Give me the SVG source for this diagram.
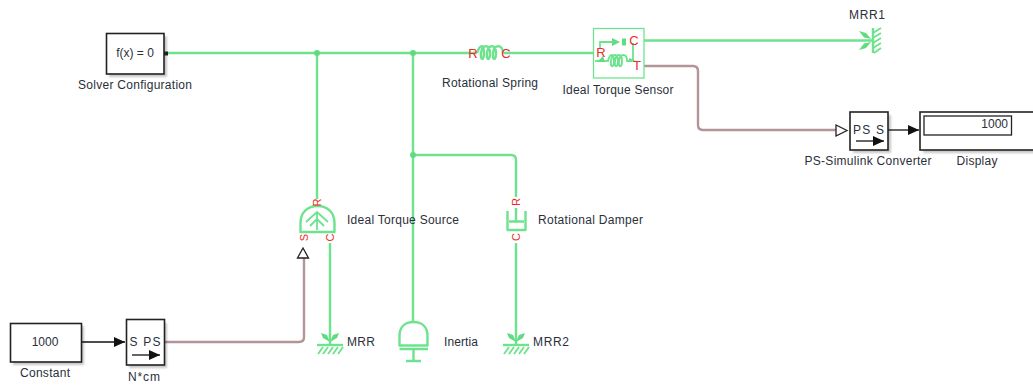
<svg xmlns="http://www.w3.org/2000/svg" width="1033" height="387" viewBox="0 0 1033 387">
<defs>
<style>
text{font-family:"Liberation Sans",Arial,sans-serif;font-size:12px;fill:#2a2f3a}
.m{text-anchor:middle}
.p{font-size:13px;fill:#ee2a2a;text-anchor:middle}
.r{font-size:11px;fill:#ee2a2a;text-anchor:middle}
.g{fill:none;stroke:#6ee38e;stroke-width:2.400;stroke-linejoin:round}
.gt{fill:none;stroke:#6ee38e;stroke-width:1.800}
.gf{fill:#5fdc82;stroke:none}
.b{fill:none;stroke:#b39497;stroke-width:2.400}
.k{fill:none;stroke:#111;stroke-width:1.300}
.box{fill:#fff;stroke:#222;stroke-width:1.600}
.sh{fill:#000;opacity:.22;filter:url(#blur)}
.h{stroke:#6ee38e;stroke-width:1.900}
</style>
<filter id="blur" x="-20%" y="-20%" width="140%" height="140%"><feGaussianBlur stdDeviation="1.2"/></filter>
<marker id="ka" markerUnits="userSpaceOnUse" markerWidth="12" markerHeight="10" refX="11" refY="5" orient="auto"><path d="M0 0L11 5L0 10Z" fill="#111"/></marker>
</defs>

<g id="connectors">
<path class="g" d="M168 53H477M503 53H593"/>
<path class="g" d="M317 53V199"/>
<path class="g" d="M413 53V322"/>
<path class="g" d="M413 155H511Q516 155 516 160V197"/>
<path class="g" d="M330 243V345"/>
<path class="g" d="M516 243V345"/>
<path class="g" d="M644 40.500H873"/>
<path class="b" d="M644 66H693Q698 66 698 71V125Q698 130 703 130H836"/>
<path class="b" d="M164 342H299Q304 342 304 337V258"/>
<circle class="gf" cx="317" cy="53" r="3"/>
<circle class="gf" cx="413" cy="53" r="3"/>
<circle class="gf" cx="413" cy="155" r="3"/>
<path class="k" d="M81 342H125" marker-end="url(#ka)"/>
<path class="k" d="M888 130H919" marker-end="url(#ka)"/>
</g>

<g id="solver">
<rect class="sh" x="109" y="36" width="58" height="41"/>
<rect class="box" x="106.500" y="33.500" width="57.500" height="40.500"/>
<text class="m" x="135" y="57">f(x) = 0</text>
<rect x="164.500" y="52" width="3" height="3" fill="#222" stroke="#222"/>
<text class="m" x="135" y="89" textLength="114">Solver Configuration</text>
</g>

<g id="spring">
<path class="g" d="M477 53C480 44 484 44 484 53C484 61 480 61 481 53C482 44 490 44 490 53C490 61 486 61 487 53C488 44 496 44 496 53C496 61 492 61 493 53C494 44 503 44 503 53"/>
<text class="p" x="473" y="57.500">R</text>
<text class="p" x="506" y="57.500">C</text>
<text class="m" x="490" y="87" textLength="96">Rotational Spring</text>
</g>

<g id="sensor">
<rect x="593.500" y="28.500" width="50.500" height="49.500" fill="#fff" stroke="#6ee38e" stroke-width="1.300"/>
<path class="gt" d="M600 48V42H615M633 43V60"/>
<path class="gf" d="M612 38L620 42L612 46ZM622 38.500H626V45.500H622Z"/>
<path class="gt" d="M595 61H609"/>
<path class="gf" d="M597 62L603 56L605 62ZM629 58L637 61.500H629Z"/>
<path class="g" style="stroke-width:1.900" d="M608 61C610 53 614 53 614 61C614 68 610 68 611 61C612 53 618 53 618 61C618 68 614 68 615 61C616 53 622 53 622 61C622 68 618 68 619 61C620 53 627 53 627 61H632"/>
<text class="p" x="601" y="57">R</text>
<text class="p" x="634" y="45">C</text>
<text class="p" x="637" y="70">T</text>
<text class="m" x="618" y="94" textLength="111">Ideal Torque Sensor</text>
</g>

<g id="mrr1">
<path class="g" d="M873 28V53"/>
<path class="h" d="M873 33L881 28M873 38L881 33M873 43L881 38M873 48L881 43M874 53L881 48"/>
<path class="gf" d="M859 31L866 33L871 39L864 37.500ZM859 50L866 48L871 42L864 43.500Z"/>
<text class="m" x="867" y="19" textLength="36">MRR1</text>
</g>

<g id="source">
<path class="g" d="M300.500 232V223C300.500 212 308 206 317.500 206C327 206 334.500 212 334.500 223V232Z"/>
<path class="g" style="stroke-width:1.800" d="M317 230V212M306 222L317 212L328 222M310 226L317 219L324 226"/>
<text class="r" transform="translate(321 202.500) rotate(-90)" x="0" y="0">R</text>
<text class="r" transform="translate(308 237.500) rotate(-90)" x="0" y="0">S</text>
<text class="r" transform="translate(334 237.500) rotate(-90)" x="0" y="0">C</text>
<path d="M303 248L297.500 258H308.500Z" fill="#fff" stroke="#222" stroke-width="1.300"/>
<text x="347" y="224" textLength="112">Ideal Torque Source</text>
</g>

<g id="mrr">
<path class="g" d="M317 345H343"/>
<path class="h" d="M318 354L323 347M323 354L328 347M328 354L333 347M333 354L338 347M338 354L343 347"/>
<path class="gf" d="M321 333L327 335L330 342L323 338ZM339 333L333 335L330 342L337 338Z"/>
<text x="347" y="346" textLength="28">MRR</text>
</g>

<g id="inertia">
<path class="g" d="M399.500 345.500V336C399.500 327 405 322 413.500 322C422 322 427.500 327 427.500 336V345.500Z"/>
<path class="g" d="M399.500 349H428M413.500 349V361M406 361H421"/>
<text x="444" y="346" textLength="34">Inertia</text>
</g>

<g id="damper">
<path class="g" d="M507.500 211V230H525.500V211"/>
<path class="g" d="M509 221.500H524M516 208V221.500"/>
<text class="r" transform="translate(520 202) rotate(-90)" x="0" y="0">R</text>
<text class="r" transform="translate(520 237) rotate(-90)" x="0" y="0">C</text>
<text x="538" y="224" textLength="105">Rotational Damper</text>
</g>

<g id="mrr2">
<path class="g" d="M503 345H529"/>
<path class="h" d="M504 354L509 347M509 354L514 347M514 354L519 347M519 354L524 347M524 354L529 347"/>
<path class="gf" d="M507 333L513 335L516 342L509 338ZM525 333L519 335L516 342L523 338Z"/>
<text x="533" y="346" textLength="36">MRR2</text>
</g>

<g id="constant">
<rect class="sh" x="13" y="326" width="71" height="39"/>
<rect class="box" x="10.500" y="323.500" width="71" height="38.500"/>
<text class="m" x="45" y="346">1000</text>
<text class="m" x="45" y="377" textLength="50">Constant</text>
</g>

<g id="ncm">
<rect class="sh" x="129" y="323" width="38" height="45"/>
<rect class="box" x="126.500" y="319.500" width="38" height="45.500"/>
<text class="m" x="145" y="346" textLength="31">S PS</text>
<path class="k" d="M132 355H160" marker-end="url(#ka)"/>
<text class="m" x="144" y="381" textLength="32">N*cm</text>
</g>

<g id="converter">
<rect class="sh" x="853" y="115" width="38" height="38"/>
<rect class="box" x="850" y="112" width="38" height="38"/>
<text class="m" x="868.500" y="134" textLength="31">PS  S</text>
<path class="k" d="M856 141H884" marker-end="url(#ka)"/>
<path d="M836 125L847 130.500L836 136Z" fill="#fff" stroke="#222" stroke-width="1.300"/>
<text class="m" x="868" y="165" textLength="127">PS-Simulink Converter</text>
</g>

<g id="display">
<rect class="sh" x="923" y="115" width="112" height="38"/>
<rect class="box" x="920" y="112" width="114" height="38"/>
<rect x="924" y="116" width="87.500" height="19" fill="#fff" stroke="#222" stroke-width="1.300"/>
<text x="1008" y="128" text-anchor="end">1000</text>
<text class="m" x="977" y="165" textLength="41">Display</text>
</g>
</svg>
